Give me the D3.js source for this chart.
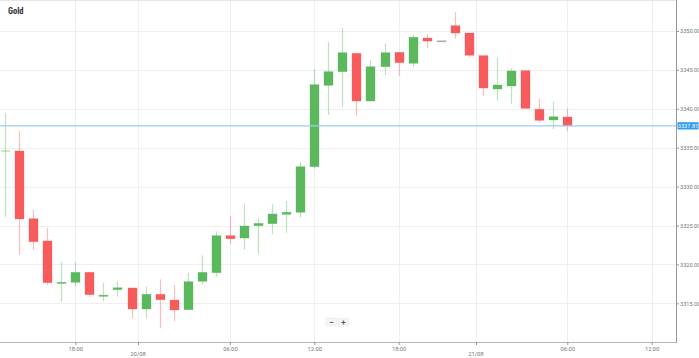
<!DOCTYPE html>
<html><head><meta charset="utf-8">
<script src="https://cdn.jsdelivr.net/npm/d3@7/dist/d3.min.js"></script>
<style>html,body{margin:0;padding:0;background:#fff;overflow:hidden}svg{display:block}</style>
</head><body><svg id="c" width="699" height="358"></svg>
<script>
const title = "Gold";
const opens  = [3334.6,3334.58,3325.87,3323.01,3317.6,3317.70,3318.98,3316.0,3316.75,3316.97,3314.27,3316.16,3315.42,3314.18,3317.83,3318.93,3323.69,3323.39,3324.97,3325.23,3326.44,3326.70,3332.56,3343.02,3344.77,3347.13,3341.0,3345.41,3347.26,3345.85,3349.10,3348.75,3350.68,3349.74,3346.83,3342.54,3342.93,3344.90,3339.94,3338.56,3338.94];
const highs  = [3339.50,3337.19,3326.99,3324.68,3320.31,3320.31,3319.06,3317.65,3317.83,3317.0,3317.13,3318.08,3317.35,3318.93,3321.17,3324.25,3326.26,3327.85,3325.96,3327.72,3328.15,3333.12,3345.12,3348.55,3350.42,3347.13,3346.27,3348.42,3347.26,3349.49,3349.58,3348.75,3352.40,3349.74,3346.83,3346.62,3345.21,3344.90,3341.35,3340.91,3340.06];
const lows   = [3326.13,3321.21,3321.85,3317.35,3315.21,3317.13,3315.81,3315.26,3315.85,3313.11,3313.07,3311.79,3312.69,3314.18,3317.44,3318.42,3322.58,3321.85,3321.30,3323.87,3324.07,3326.0,3332.35,3339.20,3340.27,3339.07,3341.0,3344.34,3344.25,3345.33,3347.78,3348.75,3349.01,3346.70,3341.68,3341.04,3340.62,3340.06,3338.26,3337.40,3337.11];
const closes = [3334.65,3325.84,3322.92,3317.65,3317.7,3318.98,3316.11,3316.05,3317.0,3314.27,3316.16,3315.46,3314.14,3317.78,3318.98,3323.69,3323.30,3324.94,3325.28,3326.48,3326.70,3332.56,3343.10,3344.77,3347.21,3341.0,3345.41,3347.21,3345.93,3349.19,3348.71,3348.75,3349.74,3346.88,3342.67,3343.06,3344.86,3340.06,3338.52,3338.98,3337.81];
const yTicks = [3315,3320,3325,3330,3335,3340,3345,3350];
const xTickPos = [5,16,22,28,40,46];
const xTickLabels = ["18:00","06:00","12:00","18:00","06:00","12:00"];
const dayPos = [9.46,33.5];
const dayLabels = ["20/08","21/08"];
const lastPrice = 3337.81;

const svg = d3.select("#c");
const W = 699, H = 358, plotR = 676, plotB = 342;
const x = d3.scaleLinear().domain([0, 40]).range([5, 567.3]);
const y = d3.scaleLinear().domain([3315, 3350]).range([303.3, 31]);
const font = "Roboto, 'Liberation Sans', Arial, sans-serif";

// gridlines
svg.append("g").selectAll("line").data(yTicks).join("line")
  .attr("x1",0).attr("x2",plotR).attr("y1",d=>Math.round(y(d))+0.5).attr("y2",d=>Math.round(y(d))+0.5)
  .attr("stroke","#efefef").attr("stroke-width",1);
svg.append("g").selectAll("line").data(xTickPos.concat(dayPos)).join("line")
  .attr("y1",0).attr("y2",plotB).attr("x1",d=>Math.round(x(d))+0.5).attr("x2",d=>Math.round(x(d))+0.5)
  .attr("stroke","#efefef").attr("stroke-width",1);
// top border
svg.append("line").attr("x1",0).attr("x2",plotR).attr("y1",0.5).attr("y2",0.5).attr("stroke","#e6e6e6");

// candles
const idx = d3.range(opens.length);
const bw = 9;
const colorOf = i => closes[i] > opens[i] ? "#5cb85c" : (closes[i] < opens[i] ? "#f75b5b" : "#aaaaaa");
const g = svg.append("g");
g.selectAll("line.w").data(idx).join("line").attr("class","w")
  .attr("x1",i=>Math.round(x(i))+0.5).attr("x2",i=>Math.round(x(i))+0.5)
  .attr("y1",i=>y(highs[i])).attr("y2",i=>y(lows[i]))
  .attr("stroke",colorOf).attr("stroke-opacity",0.4).attr("stroke-width",1.2);
g.selectAll("rect.b").data(idx).join("rect").attr("class","b")
  .attr("x",i=>Math.round(x(i))+0.5-bw/2)
  .attr("width",bw)
  .attr("y",i=>y(Math.max(opens[i],closes[i])))
  .attr("height",i=>Math.max(1.2, Math.abs(y(opens[i])-y(closes[i]))))
  .attr("fill",colorOf)
  .attr("fill-opacity",i=> i===0 ? 0.35 : 1)
  .attr("stroke",colorOf).attr("stroke-opacity",i=> i===0 ? 0.2 : 0.5).attr("stroke-width",0.6);

// current price line
svg.append("line").attr("x1",0).attr("x2",plotR).attr("y1",y(lastPrice)).attr("y2",y(lastPrice))
  .attr("stroke","#9ccdf3").attr("stroke-width",1.2);

// axes lines
svg.append("line").attr("x1",plotR+0.5).attr("x2",plotR+0.5).attr("y1",0).attr("y2",plotB+1)
  .attr("stroke","#9a9a9a").attr("stroke-width",1);
svg.append("line").attr("x1",0).attr("x2",plotR).attr("y1",plotB+0.5).attr("y2",plotB+0.5)
  .attr("stroke","#b5b5b5").attr("stroke-width",1);

// y axis
const yAxis = d3.axisRight(y).tickValues(yTicks).tickFormat(d3.format(".2f")).tickSize(3).tickPadding(1);
const ya = svg.append("g").attr("transform",`translate(${plotR},0)`).call(yAxis);
ya.select(".domain").remove();
ya.selectAll("line").attr("stroke","#999");
ya.selectAll("text").attr("font-family",font).attr("font-size",5.6).attr("fill","#777");

// price label
const pl = svg.append("g").attr("transform",`translate(${plotR+1.5},${y(lastPrice)})`);
pl.append("rect").attr("x",0).attr("y",-3.6).attr("width",21).attr("height",7.2).attr("fill","#2b9bf4");
pl.append("text").attr("x",10.5).attr("y",0).attr("dy","0.35em").attr("text-anchor","middle")
  .attr("font-family",font).attr("font-size",5.6).attr("fill","#fff").text(lastPrice.toFixed(2));

// x axis
const xAxis = d3.axisBottom(x).tickValues(xTickPos).tickFormat((d,i)=>xTickLabels[i]).tickSize(3).tickPadding(1.5);
const xa = svg.append("g").attr("transform",`translate(0,${plotB})`).call(xAxis);
xa.select(".domain").remove();
xa.selectAll("line").attr("stroke","#999");
xa.selectAll("text").attr("font-family",font).attr("font-size",5.8).attr("fill","#777");
const dx = svg.append("g").attr("transform",`translate(0,${plotB})`);
dx.selectAll("line").data(dayPos).join("line").attr("x1",d=>Math.round(x(d))+0.5).attr("x2",d=>Math.round(x(d))+0.5)
  .attr("y1",0).attr("y2",3).attr("stroke","#999");
dx.selectAll("text").data(dayPos).join("text").attr("x",d=>x(d)).attr("y",13.5).attr("text-anchor","middle")
  .attr("font-family",font).attr("font-size",5.8).attr("fill","#777").text((d,i)=>dayLabels[i]);

// title
svg.append("text").attr("x",8).attr("y",14).attr("font-family","'Roboto Condensed', Roboto, 'Liberation Sans Narrow', sans-serif")
  .attr("font-weight","bold").attr("font-size",8.5).attr("fill","#333").text(title);

// zoom buttons
const zb = svg.append("g").attr("transform","translate(326,318)");
[["−",0],["+",12]].forEach(([t,o])=>{
  zb.append("rect").attr("x",o).attr("y",0).attr("width",11).attr("height",8).attr("rx",1.5)
    .attr("fill","#f4f4f4").attr("stroke","#e4e4e4").attr("stroke-width",0.5);
  zb.append("text").attr("x",o+5.5).attr("y",4).attr("dy","0.35em").attr("text-anchor","middle")
    .attr("font-family",font).attr("font-weight","bold").attr("font-size",8).attr("fill","#555").text(t);
});
</script></body></html>
